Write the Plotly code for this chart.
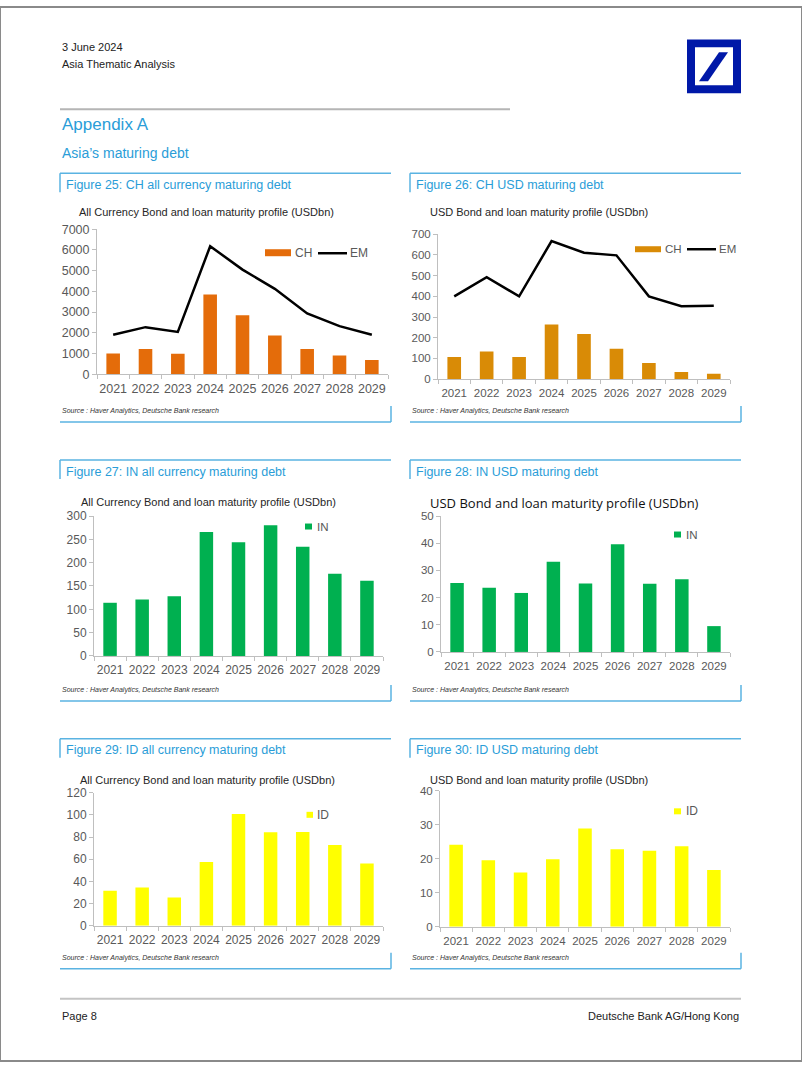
import plotly.graph_objects as go

W, H = 802, 1068

years = ["2021", "2022", "2023", "2024", "2025", "2026", "2027", "2028", "2029"]
ch_all = [1000, 1220, 980, 3850, 2850, 1870, 1220, 900, 680]
em_all = [1900, 2270, 2040, 6180, 5050, 4120, 2930, 2320, 1900]
ch_usd = [107, 134, 107, 264, 218, 147, 78, 34, 26]
em_usd = [400, 493, 400, 667, 611, 598, 400, 352, 355]
in_all = [114, 121, 128, 266, 244, 280, 234, 176, 161]
in_usd = [25.4, 23.6, 21.7, 33.2, 25.2, 39.6, 25.1, 26.7, 9.5]
id_all = [31.7, 34.6, 25.6, 57.6, 101, 84.4, 84.7, 73, 56.3]
id_usd = [24.1, 19.6, 16.0, 19.9, 28.9, 22.8, 22.4, 23.7, 16.7]

FONT = "Liberation Sans, Arial, sans-serif"
BLUE_T = "#2a9dd8"
BLUE_L = "#5ab3e2"
TICK_C = "#595959"
AX_C = "#bfbfbf"

# the viewer shows the page slightly squeezed vertically; compensate
V_OFF, V_SCL = 5.6, 0.9876


def px(x):
    return x / W


def py(y):
    return 1 - ((y - V_OFF) / V_SCL) / H


fig = go.Figure()

# panel geometry in page pixels: x0, x1, ytop, ybottom, ymax, dtick, tick font size
panels = [
    dict(x0=97, x1=388, yt=228, yb=373, ymax=7000, dtick=1000, fs=12.5),
    dict(x0=438, x1=730, yt=233, yb=378, ymax=700, dtick=100, fs=11.5),
    dict(x0=94, x1=383, yt=515, yb=655, ymax=300, dtick=50, fs=12),
    dict(x0=441, x1=730, yt=515, yb=651, ymax=50, dtick=10, fs=11.5),
    dict(x0=94, x1=383, yt=792, yb=925, ymax=120, dtick=20, fs=12),
    dict(x0=440, x1=730, yt=790, yb=926, ymax=40, dtick=10, fs=11.5),
]

series = [
    [("CH", ch_all, "bar", "#e46c0a"), ("EM", em_all, "line", "#000000")],
    [("CH", ch_usd, "bar", "#d98b06"), ("EM", em_usd, "line", "#000000")],
    [("IN", in_all, "bar", "#00b050")],
    [("IN", in_usd, "bar", "#00b050")],
    [("ID", id_all, "bar", "#ffff00")],
    [("ID", id_usd, "bar", "#ffff00")],
]

layout_axes = {}
for i, (p, ss) in enumerate(zip(panels, series), start=1):
    xa = "x" if i == 1 else f"x{i}"
    ya = "y" if i == 1 else f"y{i}"
    for name, vals, kind, col in ss:
        if kind == "bar":
            fig.add_trace(go.Bar(x=years, y=vals, name=name, marker_color=col,
                                 marker_line_width=0, width=0.42,
                                 xaxis=xa, yaxis=ya, showlegend=False))
        else:
            fig.add_trace(go.Scatter(x=years, y=vals, name=name, mode="lines",
                                     line=dict(color=col, width=2.5),
                                     xaxis=xa, yaxis=ya, showlegend=False))
    sx = "xaxis" if i == 1 else f"xaxis{i}"
    sy = "yaxis" if i == 1 else f"yaxis{i}"
    layout_axes[sx] = dict(
        domain=[px(p["x0"]), px(p["x1"])], anchor=ya, type="category",
        range=[-0.5, 8.5], showline=True, linecolor=AX_C, linewidth=1,
        ticks="outside", tickson="boundaries", ticklen=4, tickcolor=AX_C,
        tickangle=0, ticklabelstandoff=3,
        tickfont=dict(size=p["fs"], color=TICK_C, family=FONT),
        showgrid=False, zeroline=False, fixedrange=True)
    layout_axes[sy] = dict(
        domain=[py(p["yb"]), py(p["yt"])], anchor=xa,
        range=[0, p["ymax"]], dtick=p["dtick"], tick0=0,
        showline=True, linecolor=AX_C, linewidth=1,
        ticks="outside", ticklen=4, tickcolor=AX_C,
        tickfont=dict(size=p["fs"], color=TICK_C, family=FONT),
        showgrid=False, zeroline=False, fixedrange=True)

shapes = []
annotations = []


def line(x0, y0, x1, y1, color, width=1):
    shapes.append(dict(type="line", xref="paper", yref="paper",
                       x0=px(x0), y0=py(y0), x1=px(x1), y1=py(y1),
                       line=dict(color=color, width=width)))


def rect(x0, y0, x1, y1, fill):
    shapes.append(dict(type="rect", xref="paper", yref="paper",
                       x0=px(x0), y0=py(y0), x1=px(x1), y1=py(y1),
                       fillcolor=fill, line=dict(width=0)))


def text(t, x, y, size, color, xanchor="left", family=FONT):
    annotations.append(dict(text=t, x=px(x), y=py(y), xref="paper", yref="paper",
                            xanchor=xanchor, yanchor="middle", showarrow=False,
                            font=dict(size=size, color=color, family=family)))


# page border
shapes.append(dict(type="rect", xref="paper", yref="paper", x0=0, y0=0, x1=1, y1=1,
                   line=dict(color="#8a8a8a", width=2)))

# header
text("3 June 2024", 60, 46, 11, "#222222")
text("Asia Thematic Analysis", 60, 63, 11, "#222222")
rect(687, 38, 741, 92, "#0018a8")
rect(695, 46, 733, 84, "#ffffff")
shapes.append(dict(type="path", xref="paper", yref="paper",
                   path=f"M {px(699)} {py(80)} L {px(708)} {py(80)} L {px(728)} {py(51)} "
                        f"L {px(719)} {py(51)} Z",
                   fillcolor="#0018a8", line=dict(width=0)))
line(60, 108, 510, 108, "#b5b5b5", 2)
text("Appendix A", 60, 123, 17, BLUE_T)
text("Asia’s maturing debt", 60, 152, 14, BLUE_T)

# figure boxes
boxes = [
    (60, 391, 172, 421, "Figure 25: CH all currency maturing debt"),
    (410, 741, 172, 421, "Figure 26: CH USD maturing debt"),
    (60, 391, 459, 700, "Figure 27: IN all currency maturing debt"),
    (410, 741, 459, 700, "Figure 28: IN USD maturing debt"),
    (60, 391, 738, 968, "Figure 29: ID all currency maturing debt"),
    (410, 741, 738, 968, "Figure 30: ID USD maturing debt"),
]
for x0, x1, yt, yb, title in boxes:
    line(x0, yt, x1, yt, BLUE_L, 1.5)
    line(x0, yt, x0, yt + 19, BLUE_L, 1.5)
    line(x0, yb, x1, yb, BLUE_L, 1.5)
    line(x1, yb - 16, x1, yb, BLUE_L, 1.5)
    text(title, x0 + 4, yt + 11.5, 12.5, BLUE_T)
    annotations.append(dict(text="<i>Source : Haver Analytics, Deutsche Bank research</i>",
                            x=px(x0), y=py(yb - 11), xref="paper", yref="paper",
                            xanchor="left", yanchor="middle", showarrow=False,
                            font=dict(size=7, color="#333333", family=FONT)))

# chart subtitles
text("All Currency Bond and loan maturity profile (USDbn)", 77, 211, 11, "#262626")
text("USD Bond and loan maturity profile (USDbn)", 428, 211, 11, "#262626")
text("All Currency Bond and loan maturity profile (USDbn)", 79, 501, 11, "#262626")
text("USD Bond and loan maturity profile (USDbn)", 428, 502, 13, "#111111",
     family="Open Sans, Noto Sans, sans-serif")
text("All Currency Bond and loan maturity profile (USDbn)", 78, 779, 11, "#262626")
text("USD Bond and loan maturity profile (USDbn)", 428, 779, 11, "#262626")

# legends (swatches)
rect(265, 248, 291, 255, "#e46c0a")
text("CH", 293, 252, 12, TICK_C)
line(318, 252, 347, 252, "#000000", 2.5)
text("EM", 348, 252, 12, TICK_C)

rect(635, 245, 661, 251, "#d98b06")
text("CH", 663, 248, 11.5, TICK_C)
line(687, 248, 716, 248, "#000000", 2.5)
text("EM", 717, 248, 11.5, TICK_C)

rect(305, 522.5, 312, 528.5, "#00b050")
text("IN", 315, 525.5, 11.5, TICK_C)
rect(674, 530.5, 681, 536.5, "#00b050")
text("IN", 684, 533.5, 11.5, TICK_C)
rect(306.5, 811, 313, 817, "#ffff00")
text("ID", 315, 814, 12, TICK_C)
rect(674, 807.5, 681, 813.5, "#ffff00")
text("ID", 683.5, 810.5, 12, TICK_C)

# footer
line(60, 998, 741, 998, "#c4c4c4", 2)
text("Page 8", 60, 1015, 11, "#222222")
text("Deutsche Bank AG/Hong Kong", 741, 1015, 11, "#222222", xanchor="right")

fig.update_layout(
    width=W, height=H, margin=dict(l=0, r=0, t=0, b=0), autosize=False,
    paper_bgcolor="#ffffff", plot_bgcolor="#ffffff",
    font=dict(family=FONT, color=TICK_C),
    shapes=shapes, annotations=annotations, showlegend=False,
    **layout_axes,
)

fig.write_html(
    "out.html", config={"displayModeBar": False, "responsive": False},
    post_script="document.documentElement.style.margin='0';"
                "document.body.style.margin='0';"
                "document.body.style.padding='0';"
                "document.body.style.overflow='hidden';"
                "var gd=document.getElementById('{plot_id}');"
                "gd.style.position='fixed';gd.style.top='0px';gd.style.left='0px';")
